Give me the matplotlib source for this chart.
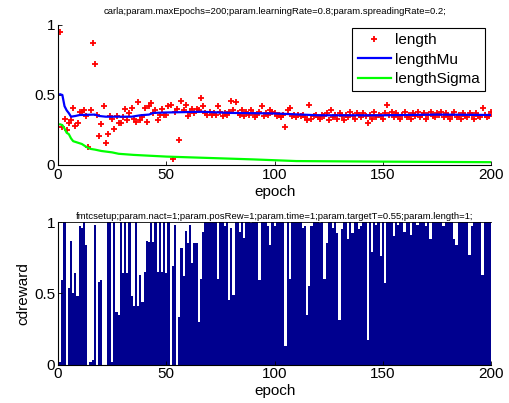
import numpy as np
import matplotlib
matplotlib.use('Agg')
import matplotlib.pyplot as plt

plt.rcParams['font.family'] = ['Liberation Sans', 'DejaVu Sans']

# ── top panel data ─────────────────────────────────────────────────────────
length = [
    0.95, 0.27, 0.33, 0.25, 0.30, 0.32, 0.41, 0.28, 0.30, 0.38,
    0.38, 0.39, 0.35, 0.13, 0.39, 0.87, 0.72, 0.36, 0.21, 0.29,
    0.42, 0.16, 0.22, 0.35, 0.33, 0.26, 0.35, 0.30, 0.30, 0.34,
    0.40, 0.32, 0.37, 0.41, 0.33, 0.31, 0.45, 0.32, 0.34, 0.41,
    0.31, 0.42, 0.44, 0.37, 0.39, 0.32, 0.36, 0.40, 0.36, 0.36,
    0.42, 0.43, 0.04, 0.38, 0.40, 0.18, 0.46, 0.39, 0.43, 0.35,
    0.38, 0.40, 0.37, 0.40, 0.39, 0.48, 0.42, 0.37, 0.36, 0.38,
    0.36, 0.37, 0.36, 0.42, 0.38, 0.35, 0.37, 0.36, 0.38, 0.46,
    0.39, 0.45, 0.37, 0.36, 0.39, 0.35, 0.38, 0.36, 0.39, 0.37,
    0.34, 0.36, 0.38, 0.42, 0.35, 0.37, 0.36, 0.39, 0.38, 0.37,
    0.35, 0.36, 0.34, 0.36, 0.27, 0.39, 0.41, 0.35, 0.36, 0.34,
    0.36, 0.35, 0.36, 0.34, 0.32, 0.43, 0.33, 0.35, 0.36, 0.34,
    0.33, 0.36, 0.35, 0.37, 0.32, 0.39, 0.34, 0.36, 0.33, 0.37,
    0.35, 0.32, 0.36, 0.34, 0.38, 0.35, 0.33, 0.37, 0.36, 0.34,
    0.37, 0.35, 0.30, 0.36, 0.33, 0.38, 0.34, 0.36, 0.35, 0.33,
    0.37, 0.43, 0.36, 0.38, 0.34, 0.37, 0.35, 0.33, 0.36, 0.38,
    0.34, 0.36, 0.33, 0.37, 0.35, 0.38, 0.34, 0.36, 0.37, 0.33,
    0.36, 0.38, 0.35, 0.34, 0.37, 0.36, 0.38, 0.34, 0.37, 0.35,
    0.33, 0.36, 0.38, 0.34, 0.36, 0.33, 0.37, 0.35, 0.34, 0.37,
    0.36, 0.33, 0.37, 0.35, 0.34, 0.41, 0.36, 0.34, 0.35, 0.38,
]
mu_epoch = [1, 2, 3, 4, 5, 6, 8, 10, 17, 19, 22, 34, 38, 42, 44, 50, 66, 80,
            100, 120, 150, 175, 200]
mu_val = [0.505, 0.50, 0.42, 0.39, 0.37, 0.345, 0.35, 0.357, 0.36, 0.35,
          0.345, 0.345, 0.355, 0.36, 0.372, 0.375, 0.38, 0.372, 0.368,
          0.355, 0.355, 0.36, 0.357]
sig_epoch = [1, 2, 3, 4, 5, 6, 7, 9, 11, 13, 15, 17, 20, 25, 28, 35, 50, 70,
             90, 110, 150, 200]
sig_val = [0.29, 0.285, 0.26, 0.23, 0.22, 0.19, 0.17, 0.16, 0.15, 0.13,
           0.115, 0.11, 0.10, 0.09, 0.08, 0.072, 0.06, 0.05, 0.04, 0.028,
           0.024, 0.02]

# ── bottom panel data ──────────────────────────────────────────────────────
cdreward = [
    0.02, 0.59, 1.00, 0.00, 0.54, 0.87, 0.50, 0.64, 0.48, 0.97,
    0.96, 1.00, 0.84, 0.00, 0.02, 0.03, 0.98, 0.00, 0.58, 0.59,
    0.00, 0.00, 1.00, 1.00, 0.02, 1.00, 0.37, 0.35, 1.00, 0.64,
    1.00, 0.64, 1.00, 0.48, 0.41, 1.00, 0.41, 0.63, 0.44, 0.65,
    0.87, 0.86, 0.99, 0.86, 1.00, 0.65, 1.00, 0.65, 1.00, 0.64,
    1.00, 0.00, 0.69, 0.98, 0.00, 0.33, 0.82, 0.62, 0.94, 0.85,
    0.98, 0.71, 0.85, 0.85, 0.30, 0.60, 0.93, 1.00, 1.00, 1.00,
    1.00, 1.00, 1.00, 0.60, 1.00, 1.00, 0.97, 1.00, 0.45, 0.96,
    0.49, 1.00, 1.00, 0.93, 1.00, 0.89, 1.00, 1.00, 0.99, 1.00,
    1.00, 1.00, 0.59, 1.00, 1.00, 1.00, 0.97, 0.84, 1.00, 0.97,
    1.00, 1.00, 1.00, 1.00, 0.13, 1.00, 0.60, 1.00, 1.00, 1.00,
    1.00, 1.00, 0.96, 0.97, 0.35, 0.55, 0.97, 1.00, 1.00, 1.00,
    0.99, 1.00, 0.60, 0.85, 1.00, 1.00, 0.96, 1.00, 0.92, 0.31,
    0.95, 1.00, 1.00, 0.88, 1.00, 0.92, 1.00, 1.00, 0.95, 0.97,
    1.00, 1.00, 0.17, 1.00, 0.79, 1.00, 0.98, 1.00, 0.76, 1.00,
    0.57, 1.00, 1.00, 1.00, 0.90, 1.00, 0.98, 1.00, 1.00, 0.93,
    1.00, 1.00, 0.91, 1.00, 1.00, 0.98, 1.00, 1.00, 1.00, 0.97,
    1.00, 0.88, 1.00, 1.00, 1.00, 1.00, 1.00, 0.97, 1.00, 1.00,
    1.00, 1.00, 0.88, 0.84, 1.00, 1.00, 1.00, 1.00, 1.00, 0.77,
    0.97, 1.00, 1.00, 1.00, 1.00, 0.63, 1.00, 1.00, 1.00, 1.00,
]
epochs = np.arange(1, len(length) + 1)

TITLE_TOP = 'carla;param.maxEpochs=200;param.learningRate=0.8;param.spreadingRate=0.2;'
TITLE_BOT = ('fmtcsetup;param.nact=1;param.posRew=1;param.time=1;'
             'param.targetT=0.55;param.length=1;')

FS = 11
fig = plt.figure(figsize=(5.09, 4.03), dpi=100)
ax1 = fig.add_axes([0.114, 0.5906, 0.851, 0.3474])
ax2 = fig.add_axes([0.114, 0.0955, 0.851, 0.3536])

# ── top: length / mu / sigma ───────────────────────────────────────────────
ax1.plot(epochs, length, '+', color='#ff0000', ms=4.5, mew=1.3, label='length')
ax1.plot(mu_epoch, mu_val, '-', color='#0000ff', lw=1.6, label='lengthMu')
ax1.plot(sig_epoch, sig_val, '-', color='#00ff00', lw=1.6, label='lengthSigma')
ax1.set_xlim(0, 200)
ax1.set_ylim(0, 1)
ax1.set_yticks([0, 0.5, 1])
ax1.set_yticklabels(['0', '0.5', '1'])
ax1.set_xticks([0, 50, 100, 150, 200])
ax1.set_xlabel('epoch', fontsize=FS, labelpad=2)
ax1.set_title(TITLE_TOP, fontsize=6.8, pad=8)
leg = ax1.legend(loc='upper right', bbox_to_anchor=(0.986, 0.979),
                 borderaxespad=0, fontsize=FS, fancybox=False, framealpha=1,
                 handlelength=2.2, handletextpad=0.25, labelspacing=0.35,
                 borderpad=0.35)
leg.get_frame().set_edgecolor('black')
leg.get_frame().set_linewidth(0.8)

# ── bottom: cdreward bars ──────────────────────────────────────────────────
ax2.bar(epochs, cdreward, width=1.0, color='#00008f', edgecolor='none',
        linewidth=0)
ax2.set_xlim(0, 200)
ax2.set_ylim(0, 1)
ax2.set_yticks([0, 0.5, 1])
ax2.set_yticklabels(['0', '0.5', '1'])
ax2.set_xticks([0, 50, 100, 150, 200])
ax2.set_xlabel('epoch', fontsize=FS, labelpad=2)
ax2.set_ylabel('cdreward', fontsize=FS, labelpad=3)
ax2.set_title(TITLE_BOT, fontsize=6.8, pad=2)

for a in (ax1, ax2):
    a.spines['right'].set_visible(False)
    a.spines['top'].set_visible(False)
    for s in ('left', 'bottom'):
        a.spines[s].set_linewidth(0.8)
    a.tick_params(direction='in', labelsize=FS, length=3, width=0.6,
                  top=False, right=False, pad=2)
ax2.spines['top'].set_visible(True)
ax2.spines['top'].set_linewidth(0.6)

fig.savefig('out.png', dpi=100)
